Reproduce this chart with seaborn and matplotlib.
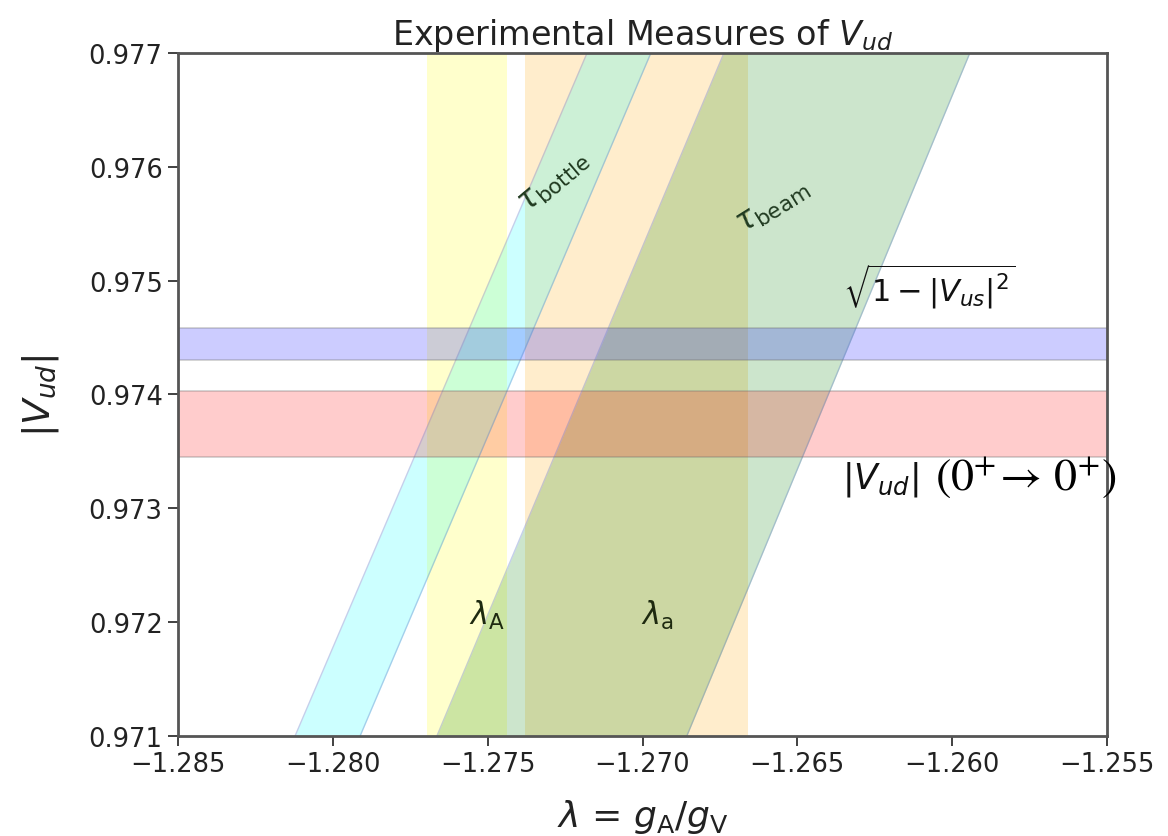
import matplotlib
matplotlib.use("Agg")
import matplotlib.pyplot as plt
import seaborn as sns
import pandas as pd

# ---- data ----
x_limits = [-1.285, -1.255]
y_limits = [0.971, 0.977]
x_ticks = [-1.285, -1.280, -1.275, -1.270, -1.265, -1.260, -1.255]
y_ticks = [0.971, 0.972, 0.973, 0.974, 0.975, 0.976, 0.977]

# diagonal bands (edge x at bottom / top of the y-range)
diag_y = [0.971, 0.977]
bottle_left = [-1.28122, -1.27179]
bottle_right = [-1.27912, -1.26973]
beam_left = [-1.27664, -1.26737]
beam_right = [-1.26857, -1.25943]

# vertical bands (lambda measurements)
lamA_band = [-1.27696, -1.27438]
lama_band = [-1.27380, -1.26660]

# horizontal bands
vus_band = [0.97430, 0.97458]
vud_band = [0.97345, 0.97403]

sns.set_theme(style="ticks")
plt.rcParams['font.family'] = ['DejaVu Sans']

fig = plt.figure(figsize=(11.68, 8.37), dpi=100)
ax = fig.add_axes([0.1524, 0.1195, 0.7954, 0.8160])

# vertical bands
ax.axvspan(lamA_band[0], lamA_band[1], color='yellow', alpha=0.2, lw=0)
ax.axvspan(lama_band[0], lama_band[1], color='orange', alpha=0.2, lw=0)

# diagonal bands
ax.fill_betweenx(diag_y, bottle_left, bottle_right, color='cyan', alpha=0.2, lw=0)
ax.fill_betweenx(diag_y, beam_left, beam_right, color='green', alpha=0.2, lw=0)
edges = pd.DataFrame({
    'y': diag_y * 4,
    'x': bottle_left + bottle_right + beam_left + beam_right,
    'edge': ['bl'] * 2 + ['br'] * 2 + ['gl'] * 2 + ['gr'] * 2,
})
sns.lineplot(data=edges, x='x', y='y', units='edge', estimator=None, sort=False,
             color='#5a78c8', alpha=0.35, lw=1.0, ax=ax)

# horizontal bands
ax.axhspan(vus_band[0], vus_band[1], facecolor='blue', alpha=0.2, lw=0)
ax.axhspan(vud_band[0], vud_band[1], facecolor='red', alpha=0.2, lw=0)
for v in vus_band + vud_band:
    ax.axhline(v, color='#707070', alpha=0.35, lw=1.2)

ax.set_xlim(x_limits)
ax.set_ylim(y_limits)
ax.set_xticks(x_ticks)
ax.set_yticks(y_ticks)
ax.set_xticklabels([f"{t:.3f}".replace('-', '\u2212') for t in x_ticks])
ax.set_yticklabels([f"{t:.3f}" for t in y_ticks])
ax.tick_params(axis='both', labelsize=18.5, length=7, width=1.3, color='#333333',
               labelcolor='#222222', direction='out', pad=4)
for s in ax.spines.values():
    s.set_linewidth(2.0)
    s.set_color('#555555')

ax.set_title(r"Experimental Measures of $V_{ud}$", fontsize=24, color='#222222', pad=6)
ax.set_xlabel(r"$\lambda$ = $g_\mathrm{A}/g_\mathrm{V}$", fontsize=26, color='#222222', labelpad=14)
ax.set_ylabel(r"$|V_{ud}|$", fontsize=27, color='#222222', labelpad=20)

# annotations
ax.text(-1.27502, 0.97207, r"$\lambda_\mathrm{A}$", fontsize=22, ha='center', va='center', color='#1e2a10')
ax.text(-1.26953, 0.97207, r"$\lambda_\mathrm{a}$", fontsize=22, ha='center', va='center', color='#1e2a10')
ax.text(-1.27285, 0.97588, r"$\tau_\mathrm{bottle}$", fontsize=22, rotation=40,
        ha='center', va='center', color='#203a20')
ax.text(-1.26580, 0.97566, r"$\tau_\mathrm{beam}$", fontsize=22, rotation=32,
        ha='center', va='center', color='#203a20')
ax.text(-1.26352, 0.97474, r"$\sqrt{1-|V_{us}|^2}$", fontsize=22, ha='left', va='bottom', color='#111111')
ax.text(-1.26356, 0.97326, r"$|V_{ud}|$", fontsize=25, ha='left', va='center', color='#111111')
ax.text(-1.26056, 0.97328, r"$(0^{+}\!\rightarrow\,0^{+})$", fontsize=33, ha='left', va='center',
        color='black', math_fontfamily='stix', clip_on=False)

fig.savefig("out.png", dpi=100)
